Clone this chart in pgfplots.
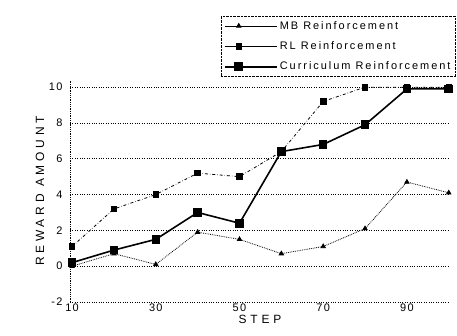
\documentclass[border=0pt]{standalone}
\usepackage{pgfplots}
\pgfplotsset{compat=1.18}
\usepackage{fontspec}
\setmainfont{Liberation Sans}[LetterSpace=12]
\begin{document}
\begin{tikzpicture}
\begin{axis}[
  scale only axis,
  width=380bp, height=222bp,
  xmin=9.5, xmax=100.3, ymin=-2, ymax=10.4,
  axis lines=left,
  x axis line style={draw=none},
  y axis line style={densely dotted,-, thick},
  xtick={10,30,50,70,90},
  ytick={-2,0,2,4,6,8,10},
  major tick length=0pt,
  ymajorgrids,
  grid style={dotted, thick, black},
  /pgf/number format/assume math mode=true,
  tick label style={font=\fontsize{11}{13}\selectfont},
  yticklabel style={xshift=-4pt},
  xticklabel style={yshift=2pt},
  xlabel={STEP}, ylabel={REWARD AMOUNT},
  label style={font=\fontsize{12}{14}\selectfont\addfontfeatures{LetterSpace=32}},
  xlabel style={yshift=3pt},
  ylabel style={yshift=-2pt},
  legend style={at={(1.015,1.015)}, anchor=south east, draw=black, densely dotted, font=\fontsize{11}{13}\selectfont\addfontfeatures{LetterSpace=18}, row sep=7pt, legend cell align=left, inner sep=3pt},
  legend image post style={solid},
  legend image code/.code={\draw[#1] (0cm,0cm) -- (0.9cm,0cm) plot coordinates {(0.5cm,0cm)} -- (1.85cm,0cm);},
]
\addplot[black, densely dotted, thick, mark=triangle*, mark size=2.5pt, mark options={solid}] coordinates {
(10,0.0) (20,0.7) (30,0.1) (40,1.9) (50,1.5) (60,0.7) (70,1.1) (80,2.1) (90,4.7) (100,4.1)};
\addlegendentry{MB Reinforcement}
\addplot[black, dashdotted, thick, mark=square*, mark size=2.8pt, mark options={solid}] coordinates {
(10,1.1) (20,3.2) (30,4.0) (40,5.2) (50,5.0) (60,6.4) (70,9.2) (80,10.0) (90,10.0) (100,10.0)};
\addlegendentry{RL Reinforcement}
\addplot[black, line width=1.6pt, mark=square*, mark size=3.5pt] coordinates {
(10,0.2) (20,0.9) (30,1.5) (40,3.0) (50,2.4) (60,6.4) (70,6.8) (80,7.9) (90,9.9) (100,9.9)};
\addlegendentry{Curriculum Reinforcement}
\end{axis}
\path (current axis.south west) ++(-70bp,-34bp) rectangle ++(457bp,336bp);
\end{tikzpicture}
\end{document}
